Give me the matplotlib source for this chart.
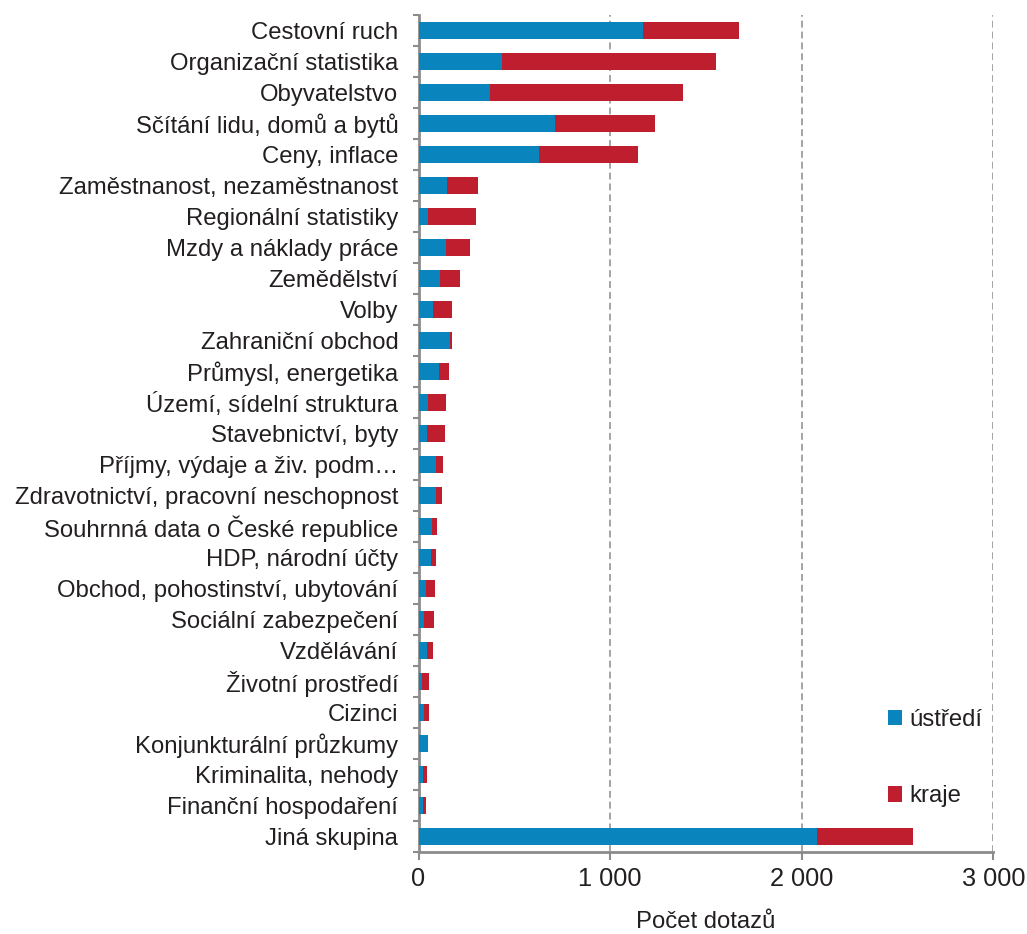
import matplotlib
matplotlib.use("Agg")
import matplotlib.pyplot as plt
import numpy as np

plt.rcParams['font.family'] = ['Liberation Sans', 'DejaVu Sans']

categories = [
    "Cestovní ruch", "Organizační statistika", "Obyvatelstvo",
    "Sčítání lidu, domů a bytů", "Ceny, inflace",
    "Zaměstnanost, nezaměstnanost", "Regionální statistiky",
    "Mzdy a náklady práce", "Zemědělství", "Volby", "Zahraniční obchod",
    "Průmysl, energetika", "Území, sídelní struktura", "Stavebnictví, byty",
    "Příjmy, výdaje a živ. podm…", "Zdravotnictví, pracovní neschopnost",
    "Souhrnná data o České republice", "HDP, národní účty",
    "Obchod, pohostinství, ubytování", "Sociální zabezpečení", "Vzdělávání",
    "Životní prostředí", "Cizinci", "Konjunkturální průzkumy",
    "Kriminalita, nehody", "Finanční hospodaření", "Jiná skupina",
]
ustredi = [1172, 434, 371, 714, 627, 150, 48, 144, 114, 77, 164, 109, 50, 46,
           91, 91, 69, 64, 41, 29, 46, 18, 30, 48, 22, 23, 2082]
totals = [1674, 1553, 1382, 1236, 1144, 312, 298, 269, 217, 175, 173, 157, 144,
          137, 130, 123, 97, 91, 88, 79, 76, 53, 53, 48, 43, 38, 2579]
kraje = [t - u for t, u in zip(totals, ustredi)]

xticks = [0, 1000, 2000, 3000]
xticklabels = ["0", "1 000", "2 000", "3 000"]

blue = "#0A84BD"
red = "#BE1E2D"
grey = "#8C8C8C"
txt = "#231F20"

fig = plt.figure(figsize=(10.27, 9.34), dpi=100)
ax = fig.add_axes([418.5 / 1027, 1 - 852 / 934, (993.3 - 418.5) / 1027, (852 - 15) / 934])

y = np.arange(len(categories))
ax.barh(y, ustredi, height=0.52, color=blue, label="ústředí", zorder=3)
ax.barh(y, kraje, left=ustredi, height=0.52, color=red, label="kraje", zorder=3)

ax.set_xlim(0, 3000)
ax.set_ylim(len(categories) - 0.5, -0.5)

ax.set_yticks(y)
ax.set_yticklabels(categories, fontsize=17.2, color=txt)
ax.tick_params(axis='y', which='major', length=0, pad=14.5)
ax.set_yticks(np.arange(len(categories) + 1) - 0.5, minor=True)
ax.tick_params(axis='y', which='minor', length=4.5, width=1.5, color=grey, direction='out')

ax.set_xticks(xticks)
ax.set_xticklabels(xticklabels, fontsize=18.3, color=txt)
ax.tick_params(axis='x', which='major', length=6, width=1.5, color=grey, direction='out', pad=5)

for xv in xticks[1:]:
    ax.axvline(xv, color=grey, linestyle=(0, (4.5, 2.6)), linewidth=1.1, zorder=1)

for s in ['top', 'right']:
    ax.spines[s].set_visible(False)
for s in ['left', 'bottom']:
    ax.spines[s].set_color(grey)
    ax.spines[s].set_linewidth(2)

ax.set_xlabel("Počet dotazů", fontsize=17.2, color=txt, labelpad=14)

leg = ax.legend(loc='upper left', bbox_to_anchor=(888 / 1027, 1 - 709 / 934),
                bbox_transform=fig.transFigure, frameon=False, borderpad=0,
                borderaxespad=0, fontsize=17.2, handlelength=0.6, handleheight=0.6,
                labelspacing=2.28, handletextpad=0.3, labelcolor=txt)

fig.savefig("out.png", dpi=100)
